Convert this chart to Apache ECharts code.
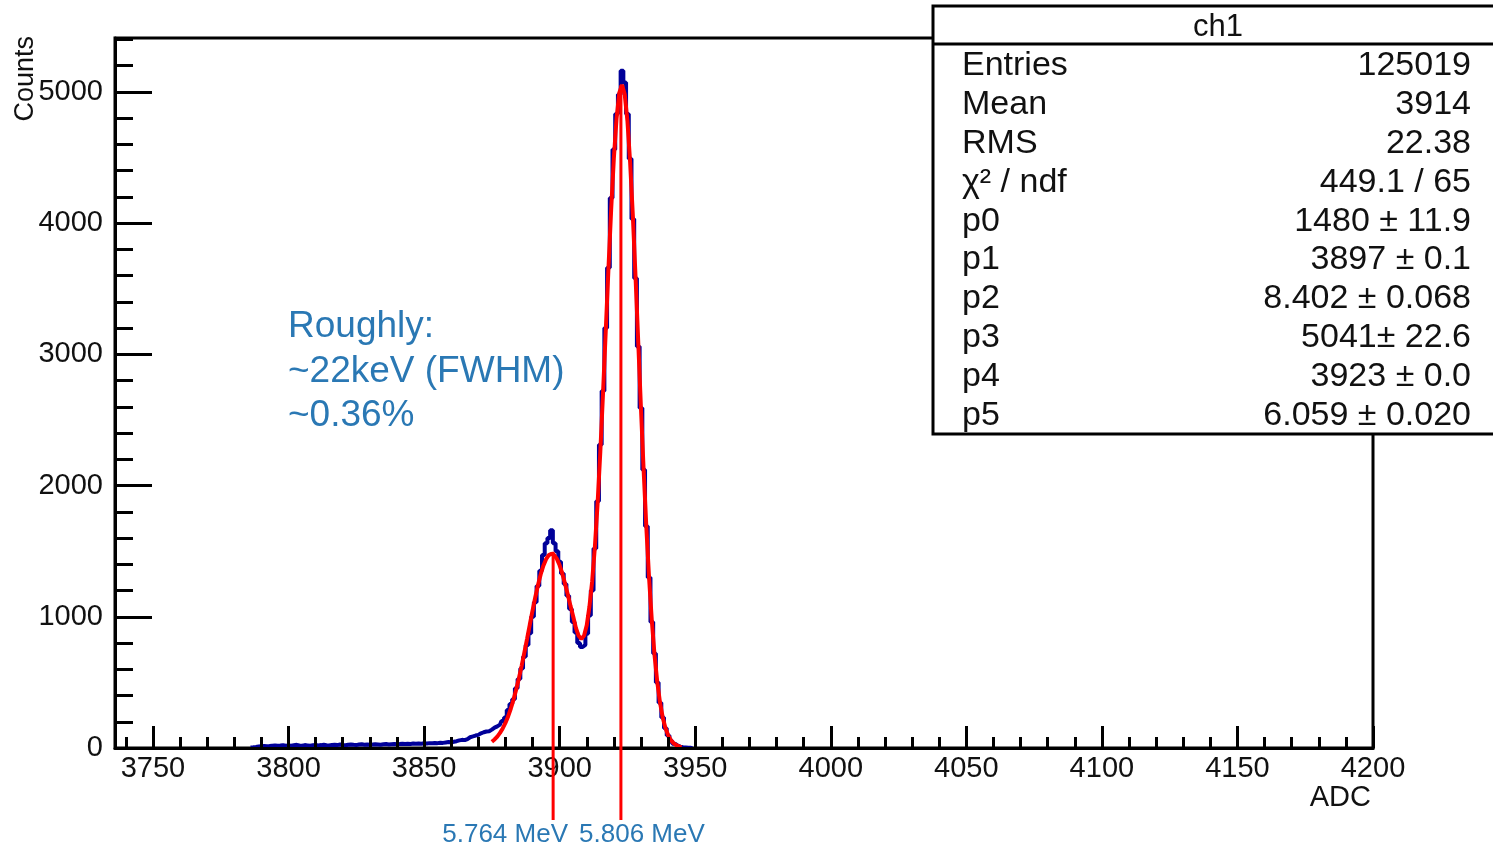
<!DOCTYPE html>
<html>
<head>
<meta charset="utf-8">
<title>ch1</title>
<script src="https://cdn.jsdelivr.net/npm/echarts@6.0.0/dist/echarts.min.js"></script>
<style>
  html, body { margin: 0; padding: 0; background: #fff; }
  #main { width: 1493px; height: 849px; }
</style>
</head>
<body>
<div id="main"></div>
<script>
// histogram ch1, 1 ADC per bin, first bin centre at 3786
var binStart = 3786;
var counts = [
  3, 5, 8, 12, 14, 16, 13, 15, 18, 20,
  17, 19, 22, 18, 20, 17, 21, 24, 19, 18,
  22, 20, 17, 21, 23, 20, 22, 25, 21, 19,
  23, 24, 22, 26, 23, 21, 25, 27, 24, 22,
  26, 28, 25, 27, 24, 26, 29, 27, 25, 28,
  30, 27, 29, 31, 28, 30, 33, 30, 32, 31,
  34, 32, 35, 33, 36, 34, 37, 36, 38, 37,
  40, 39, 42, 45, 43, 48, 52, 58, 62, 60,
  68, 82, 88, 95, 100, 112, 120, 126, 128, 140,
  155, 165, 178, 205, 232, 290, 335, 372, 455, 525,
  605, 695, 785, 875, 1000, 1110, 1235, 1350, 1470, 1560,
  1600, 1660, 1560, 1500, 1420, 1330, 1250, 1160, 1060, 960,
  880, 800, 770, 785, 870, 1010, 1200, 1520, 1880, 2310,
  2720, 3200, 3660, 4190, 4560, 4830, 4980, 5160, 5070, 4830,
  4490, 4030, 3580, 3060, 2590, 2120, 1690, 1300, 960, 720,
  500, 345, 232, 150, 95, 56, 33, 19, 10, 6,
  4, 2, 1, 0
];

// fit curve read at every ADC from 3875 to 3945
var fitStart = 3875;
var fitValues = [
  48, 65, 87, 115, 149, 191,
  241, 301, 369, 447, 534,
  628, 729, 834, 941, 1046,
  1147, 1240, 1322, 1389, 1439,
  1470, 1480, 1470, 1441, 1392,
  1328, 1252, 1169, 1083, 1002,
  915, 855, 830, 855, 935,
  1079, 1271, 1533, 1864, 2257,
  2701, 3175, 3651, 4102, 4494,
  4799, 4991, 5053, 4981, 4780,
  4463, 4057, 3588, 3089, 2587,
  2109, 1673, 1292, 970, 709,
  505, 349, 235, 154, 98,
  61, 37, 22, 12, 7
];

var xMajorTicks = [3750, 3800, 3850, 3900, 3950, 4000, 4050, 4100, 4150, 4200];
var xMinorTicks = [3740, 3760, 3770, 3780, 3790, 3810, 3820, 3830, 3840, 3860, 3870, 3880, 3890,
  3910, 3920, 3930, 3940, 3960, 3970, 3980, 3990, 4010, 4020, 4030, 4040, 4060, 4070, 4080, 4090,
  4110, 4120, 4130, 4140, 4160, 4170, 4180, 4190];
var yMajorTicks = [0, 1000, 2000, 3000, 4000, 5000];
var yMinorTicks = [200, 400, 600, 800, 1200, 1400, 1600, 1800, 2200, 2400, 2600, 2800,
  3200, 3400, 3600, 3800, 4200, 4400, 4600, 4800, 5200, 5400];

// peak markers
var peakAdc = [3897.6, 3922.6];
var peakTop = [1495, 5050];
var peakLabels = ["5.764 MeV", "5.806 MeV"];

var noteLines = ["Roughly:", "~22keV (FWHM)", "~0.36%"];

var statTitle = "ch1";
var statNames = ["Entries", "Mean", "RMS", "\u03c7\u00b2 / ndf", "p0", "p1", "p2", "p3", "p4", "p5"];
var statValues = ["125019", "3914", "22.38", "449.1 / 65", "1480 \u00b1 11.9", "3897 \u00b1 0.1",
  "8.402 \u00b1 0.068", "5041\u00b1 22.6", "3923 \u00b1 0.0", "6.059 \u00b1 0.020"];

var FONT = '"Liberation Sans", Arial, sans-serif';
var noteColor = "#2a78b4";

var histData = [];
for (var i = 0; i < counts.length; i++) {
  histData.push([binStart + i, counts[i]]);
}
var fitData = [];
for (var j = 0; j < fitValues.length; j++) {
  fitData.push([fitStart + j, fitValues[j]]);
}

var chart = echarts.init(document.getElementById("main"));

function plain(v) {
  return String(v);
}

function tickAxis(extra) {
  var base = {
    type: "value",
    z: 5,
    splitLine: { show: false },
    axisLine: { show: false },
    axisLabel: { show: false }
  };
  for (var k in extra) base[k] = extra[k];
  return base;
}

chart.setOption({
  animation: false,
  backgroundColor: "#fff",
  grid: {
    left: 115,
    top: 38,
    width: 1258,
    height: 710,
    show: true,
    borderColor: "#000",
    borderWidth: 3,
    backgroundColor: "transparent"
  },
  xAxis: [
    tickAxis({
      min: 3736,
      max: 4200,
      position: "bottom",
      axisLine: { show: true, onZero: false, lineStyle: { color: "#000", width: 3 } },
      axisTick: { show: true, inside: true, length: 22, customValues: xMajorTicks, lineStyle: { color: "#000", width: 3 } },
      axisLabel: { show: true, customValues: xMajorTicks, formatter: plain, margin: 6, color: "#111", fontSize: 29, fontFamily: FONT }
    }),
    tickAxis({
      min: 3736,
      max: 4200,
      position: "bottom",
      axisTick: { show: true, inside: true, length: 11, customValues: xMinorTicks, lineStyle: { color: "#000", width: 3 } }
    })
  ],
  yAxis: [
    tickAxis({
      min: 0,
      max: 5410,
      position: "left",
      axisLine: { show: true, onZero: false, lineStyle: { color: "#000", width: 3 } },
      axisTick: { show: true, inside: true, length: 37, customValues: yMajorTicks, lineStyle: { color: "#000", width: 3 } },
      axisLabel: { show: true, customValues: yMajorTicks, formatter: plain, margin: 12, color: "#111", fontSize: 29, fontFamily: FONT }
    }),
    tickAxis({
      min: 0,
      max: 5410,
      position: "left",
      axisTick: { show: true, inside: true, length: 18, customValues: yMinorTicks, lineStyle: { color: "#000", width: 3 } }
    })
  ],
  series: [
    {
      name: "ch1",
      type: "line",
      step: "middle",
      showSymbol: false,
      data: histData,
      lineStyle: { color: "#000099", width: 4 },
      z: 2
    },
    {
      name: "fit",
      type: "line",
      showSymbol: false,
      data: fitData,
      lineStyle: { color: "#ff0000", width: 4 },
      z: 3
    }
  ]
});

// annotations, stats box and axis titles
var g = [];
for (var p = 0; p < peakAdc.length; p++) {
  var px = chart.convertToPixel({ xAxisIndex: 0 }, peakAdc[p]);
  var py = chart.convertToPixel({ yAxisIndex: 0 }, peakTop[p]);
  g.push({
    type: "line",
    z: 50,
    shape: { x1: px, y1: py, x2: px, y2: 820 },
    style: { stroke: "#ff0000", lineWidth: 3 }
  });
  g.push({
    type: "text",
    z: 50,
    x: px + (p === 0 ? -48 : 21),
    y: 835,
    style: { text: peakLabels[p], font: "26px " + FONT, fill: noteColor, align: "center", verticalAlign: "middle" }
  });
}
for (var n = 0; n < noteLines.length; n++) {
  g.push({
    type: "text",
    z: 50,
    x: 288,
    y: 327 + n * 44.5,
    style: { text: noteLines[n], font: "37px " + FONT, fill: noteColor, align: "left", verticalAlign: "middle" }
  });
}
g.push({
  type: "rect",
  z: 60,
  shape: { x: 933, y: 6, width: 570, height: 428 },
  style: { fill: "#fff", stroke: "#000", lineWidth: 3 }
});
g.push({
  type: "line",
  z: 61,
  shape: { x1: 933, y1: 44, x2: 1503, y2: 44 },
  style: { stroke: "#000", lineWidth: 3 }
});
g.push({
  type: "text",
  z: 61,
  x: 1218,
  y: 27,
  style: { text: statTitle, font: "31px " + FONT, fill: "#111", align: "center", verticalAlign: "middle" }
});
for (var s = 0; s < statNames.length; s++) {
  var yy = 66 + s * 38.8;
  g.push({
    type: "text",
    z: 61,
    x: 962,
    y: yy,
    style: { text: statNames[s], font: "34px " + FONT, fill: "#111", align: "left", verticalAlign: "middle" }
  });
  g.push({
    type: "text",
    z: 61,
    x: 1471,
    y: yy,
    style: { text: statValues[s], font: "34px " + FONT, fill: "#111", align: "right", verticalAlign: "middle" }
  });
}
g.push({
  type: "text",
  z: 50,
  x: 1371,
  y: 798,
  style: { text: "ADC", font: "29px " + FONT, fill: "#111", align: "right", verticalAlign: "middle" }
});
g.push({
  type: "text",
  z: 50,
  x: 26,
  y: 36,
  rotation: Math.PI / 2,
  style: { text: "Counts", font: "27px " + FONT, fill: "#111", align: "right", verticalAlign: "middle" }
});
chart.setOption({ graphic: g });
</script>
</body>
</html>
